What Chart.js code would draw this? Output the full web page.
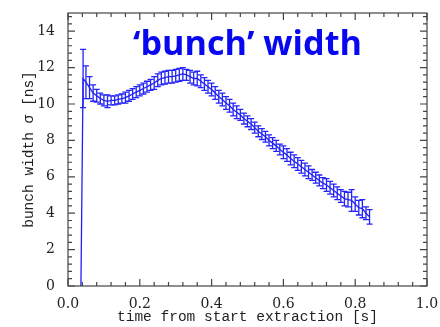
<!DOCTYPE html>
<html>
<head>
<meta charset="utf-8">
<script src="https://cdn.jsdelivr.net/npm/chart.js@4"></script>
<style>
  body { margin: 0; background: #fff; }
  #wrap { width: 440px; height: 327px; }
</style>
</head>
<body>
<div id="wrap"><canvas id="myChart" width="440" height="327"></canvas></div>
<script>
// time from start extraction [s]
const times = [0.036, 0.042, 0.05, 0.06, 0.07, 0.08, 0.09, 0.10, 0.11, 0.12, 0.13, 0.14, 0.15,
    0.16, 0.17, 0.18, 0.19, 0.20, 0.21, 0.22, 0.23, 0.24, 0.25, 0.26, 0.27, 0.28, 0.29, 0.30,
    0.31, 0.32, 0.33, 0.34, 0.35, 0.36, 0.37, 0.38, 0.39, 0.40, 0.41, 0.42, 0.43, 0.44, 0.45,
    0.46, 0.47, 0.48, 0.49, 0.50, 0.51, 0.52, 0.53, 0.54, 0.55, 0.56, 0.57, 0.58, 0.59, 0.60,
    0.61, 0.62, 0.63, 0.64, 0.65, 0.66, 0.67, 0.68, 0.69, 0.70, 0.71, 0.72, 0.73, 0.74, 0.75,
    0.76, 0.77, 0.78, 0.79, 0.80, 0.81, 0.82, 0.83, 0.84];
// bunch width sigma [ns]
const widths = [0, 11.4, 11.2, 10.9, 10.6, 10.45, 10.3, 10.2, 10.15, 10.2, 10.2, 10.25, 10.3,
    10.35, 10.45, 10.55, 10.65, 10.75, 10.85, 10.95, 11.05, 11.15, 11.3, 11.4, 11.45, 11.5, 11.5, 11.55,
    11.6, 11.65, 11.6, 11.5, 11.4, 11.4, 11.25, 11.1, 10.95, 10.8, 10.6, 10.4, 10.25, 10.05, 9.9,
    9.7, 9.55, 9.4, 9.2, 9.05, 8.9, 8.7, 8.5, 8.35, 8.2, 8.0, 7.85, 7.7, 7.5, 7.35,
    7.2, 7.0, 6.85, 6.7, 6.55, 6.4, 6.25, 6.1, 5.95, 5.8, 5.65, 5.55, 5.4, 5.25, 5.1,
    4.95, 4.8, 4.75, 4.7, 4.5, 4.3, 4.25, 4.0, 3.8];
// +/- error
const errors = [0, 1.6, 0.9, 0.6, 0.45, 0.35, 0.3, 0.3, 0.35, 0.25, 0.25, 0.25, 0.25,
    0.3, 0.3, 0.3, 0.3, 0.3, 0.3, 0.3, 0.3, 0.35, 0.35, 0.35, 0.35, 0.35, 0.35, 0.35,
    0.35, 0.35, 0.3, 0.35, 0.35, 0.4, 0.35, 0.35, 0.35, 0.35, 0.35, 0.35, 0.35, 0.35, 0.35,
    0.35, 0.35, 0.3, 0.3, 0.3, 0.3, 0.3, 0.3, 0.3, 0.3, 0.3, 0.3, 0.3, 0.3, 0.35,
    0.35, 0.35, 0.35, 0.35, 0.35, 0.35, 0.35, 0.3, 0.3, 0.3, 0.3, 0.35, 0.35, 0.35, 0.35,
    0.35, 0.4, 0.4, 0.6, 0.4, 0.4, 0.5, 0.35, 0.4];
const xTicks = [0, 0.2, 0.4, 0.6, 0.8, 1.0];
const yTicks = [0, 2, 4, 6, 8, 10, 12, 14];

const points = times.map((t, i) => ({ x: t, y: widths[i] }));

const errorBars = {
    id: 'errorBars',
    afterDatasetsDraw(chart) {
        const ctx = chart.ctx;
        const xs = chart.scales.x, ys = chart.scales.y;
        ctx.save();
        ctx.strokeStyle = 'rgb(35,35,250)';
        ctx.lineWidth = 1.3;
        times.forEach((t, i) => {
            if (!errors[i]) return;
            const px = xs.getPixelForValue(t);
            const top = ys.getPixelForValue(widths[i] + errors[i]);
            const bot = ys.getPixelForValue(widths[i] - errors[i]);
            ctx.beginPath();
            ctx.moveTo(px, top); ctx.lineTo(px, bot);
            ctx.moveTo(px - 3, top); ctx.lineTo(px + 3, top);
            ctx.moveTo(px - 3, bot); ctx.lineTo(px + 3, bot);
            ctx.stroke();
        });
        ctx.restore();
    }
};

const frame = {
    id: 'frame',
    afterDraw(chart) {
        const ctx = chart.ctx;
        const a = chart.chartArea;
        const xs = chart.scales.x, ys = chart.scales.y;
        ctx.save();
        ctx.strokeStyle = '#444';
        ctx.lineWidth = 1.2;
        ctx.strokeRect(a.left, a.top, a.right - a.left, a.bottom - a.top);
        ctx.beginPath();
        for (let i = 0; i <= 25; i++) {
            const v = i * 0.04;
            const px = xs.getPixelForValue(v);
            const len = (i % 5 === 0) ? 7 : 4;
            ctx.moveTo(px, a.bottom); ctx.lineTo(px, a.bottom - len);
            ctx.moveTo(px, a.top); ctx.lineTo(px, a.top + len);
        }
        for (let i = 0; i <= 37; i++) {
            const v = i * 0.4;
            const py = ys.getPixelForValue(v);
            const len = (i % 5 === 0) ? 7 : 4;
            ctx.moveTo(a.left, py); ctx.lineTo(a.left + len, py);
            ctx.moveTo(a.right, py); ctx.lineTo(a.right - len, py);
        }
        ctx.stroke();

        // big title
        const txt = '\u2018bunch\u2019 width';
        let size = 32;
        ctx.font = 'bold ' + size + 'px "Open Sans"';
        size = size * 229 / ctx.measureText(txt).width;
        ctx.font = 'bold ' + size.toFixed(1) + 'px "Open Sans"';
        ctx.fillStyle = '#0808f0';
        ctx.textBaseline = 'alphabetic';
        ctx.fillText(txt, 133, 55);
        ctx.restore();
    }
};

const ctx = document.getElementById('myChart');
new Chart(ctx, {
    type: 'scatter',
    data: {
        datasets: [{
            data: points,
            showLine: true,
            borderColor: 'rgb(30,30,240)',
            borderWidth: 1.3,
            pointRadius: 0,
            tension: 0
        }]
    },
    options: {
        responsive: false,
        animation: false,
        layout: { padding: { top: 13, right: 13, left: 0, bottom: 0 } },
        plugins: { legend: { display: false }, tooltip: { enabled: false } },
        scales: {
            x: {
                type: 'linear',
                min: 0, max: 1,
                afterBuildTicks: s => { s.ticks = xTicks.map(v => ({ value: v })); },
                afterFit: s => { s.height = 41; s.paddingLeft = 0; s.paddingRight = 0; },
                grid: { display: false, drawTicks: false },
                border: { display: false },
                ticks: {
                    padding: 10,
                    color: '#222',
                    font: { family: 'DejaVu Serif', size: 14 },
                    callback: v => v.toFixed(1),
                    maxRotation: 0
                },
                title: {
                    display: true,
                    text: 'time from start extraction [s]',
                    color: '#222',
                    font: { family: 'Liberation Mono', size: 14.5 },
                    padding: { top: 0, bottom: 1 }
                }
            },
            y: {
                min: 0, max: 15,
                afterBuildTicks: s => { s.ticks = yTicks.map(v => ({ value: v })); },
                afterFit: s => { s.width = 68; s.paddingTop = 0; s.paddingBottom = 0; },
                grid: { display: false, drawTicks: false },
                border: { display: false },
                ticks: {
                    padding: 13,
                    color: '#222',
                    font: { family: 'DejaVu Serif', size: 14 }
                },
                title: {
                    display: true,
                    text: 'bunch width \u03c3 [ns]',
                    color: '#222',
                    font: { family: 'Liberation Mono', size: 14.5 },
                    padding: { top: 20, bottom: 0 }
                }
            }
        }
    },
    plugins: [errorBars, frame]
});
</script>
</body>
</html>
